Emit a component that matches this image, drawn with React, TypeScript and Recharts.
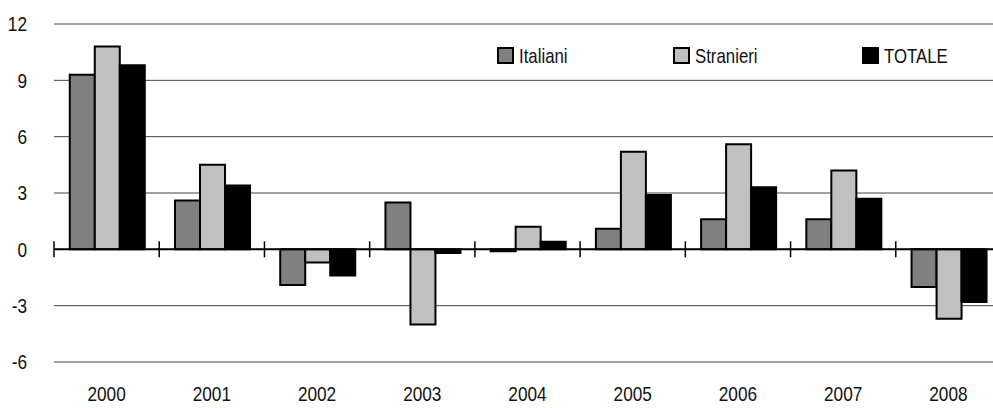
import { BarChart, Bar, XAxis, YAxis, CartesianGrid, Legend, ReferenceLine } from 'recharts';

const years = ['2000', '2001', '2002', '2003', '2004', '2005', '2006', '2007', '2008'];
const italiani = [9.3, 2.6, -1.9, 2.5, -0.1, 1.1, 1.6, 1.6, -2.0];
const stranieri = [10.8, 4.5, -0.7, -4.0, 1.2, 5.2, 5.6, 4.2, -3.7];
const totale = [9.8, 3.4, -1.4, -0.2, 0.4, 2.9, 3.3, 2.7, -2.8];
const yTicks = [-6, -3, 0, 3, 6, 9, 12];

const data = years.map((year, i) => ({
  year,
  italiani: italiani[i],
  stranieri: stranieri[i],
  totale: totale[i],
}));

// no narrow font installed: squeeze Liberation Sans (Arial metrics) to Arial Narrow width
const FONT = "'Liberation Sans', Arial, sans-serif";
const NARROW = 0.82;
const FS = 21;

function XTick({ x, y, payload }: any) {
  return (
    <g transform={`translate(${x},${y})`}>
      <text transform={`scale(${NARROW},1)`} textAnchor="middle" dy="0.71em" fill="#111" fontSize={FS} fontFamily={FONT}>
        {payload.value}
      </text>
    </g>
  );
}

function YTick({ x, y, payload }: any) {
  return (
    <g transform={`translate(${x},${y})`}>
      <text transform={`scale(${NARROW},1)`} textAnchor="end" dy="0.355em" fill="#111" fontSize={FS} fontFamily={FONT}>
        {payload.value}
      </text>
    </g>
  );
}

// zero line with the category separators crossing it
function ZeroAxis(props: any) {
  const { x1, y1, x2 } = props;
  const step = (x2 - x1) / years.length;
  const marks = [];
  for (let i = 0; i <= years.length; i++) {
    const x = x1 + i * step;
    marks.push(<line key={i} x1={x} x2={x} y1={y1 - 8} y2={y1 + 8} stroke="#000" strokeWidth={1.5} />);
  }
  return (
    <g>
      <line x1={x1} x2={x2} y1={y1} y2={y1} stroke="#000" strokeWidth={2} />
      {marks}
    </g>
  );
}

const legendWidths = [176, 189, 110];

function LegendContent({ payload }: any) {
  return (
    <div style={{ display: 'flex', fontFamily: FONT, fontSize: 21, color: '#111', lineHeight: '23px' }}>
      {(payload || []).map((p: any, i: number) => (
        <div key={p.value} style={{ display: 'flex', alignItems: 'center', gap: 5, width: legendWidths[i] }}>
          <span style={{ width: 13, height: 13, background: p.color, border: '2px solid #000', display: 'inline-block' }} />
          <span style={{ display: 'inline-block', whiteSpace: 'nowrap', transform: `scaleX(0.8)`, transformOrigin: 'left center' }}>
            {p.value}
          </span>
        </div>
      ))}
    </div>
  );
}

export default function App() {
  return (
    <div style={{ position: 'absolute', left: 0, top: 0, width: 993, height: 408, overflow: 'hidden', background: '#fff' }}>
      <BarChart
        width={1001}
        height={408}
        data={data}
        margin={{ top: 24, right: 0, left: 0, bottom: 0 }}
        barCategoryGap="15%"
        barGap={0}
      >
        <CartesianGrid vertical={false} stroke="#444" strokeWidth={1} />
        <XAxis
          dataKey="year"
          axisLine={false}
          tickLine={false}
          height={46}
          tickMargin={18}
          tick={<XTick />}
        />
        <YAxis
          domain={[-6, 12]}
          ticks={yTicks}
          width={54}
          axisLine={false}
          tickLine={false}
          tickMargin={21}
          tick={<YTick />}
        />
        <Legend
          layout="horizontal"
          verticalAlign="middle"
          align="center"
          content={<LegendContent />}
          wrapperStyle={{ position: 'absolute', top: 44, left: 497, width: 'auto' }}
        />
        <Bar dataKey="italiani" name="Italiani" fill="#808080" stroke="#000" strokeWidth={2} isAnimationActive={false} />
        <Bar dataKey="stranieri" name="Stranieri" fill="#c0c0c0" stroke="#000" strokeWidth={2} isAnimationActive={false} />
        <Bar dataKey="totale" name="TOTALE" fill="#000000" stroke="#000" strokeWidth={2} isAnimationActive={false} />
        <ReferenceLine y={0} shape={<ZeroAxis />} />
      </BarChart>
    </div>
  );
}
